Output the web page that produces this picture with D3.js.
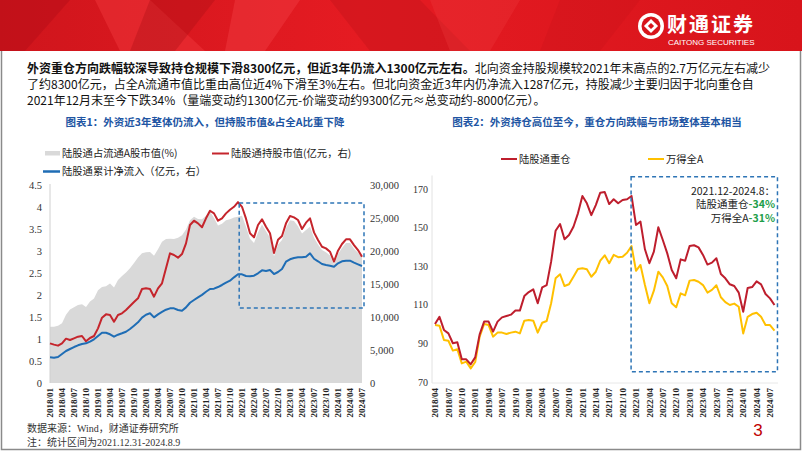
<!DOCTYPE html>
<html><head><meta charset="utf-8">
<script src="https://cdn.jsdelivr.net/npm/d3@7"></script>
<style>body{margin:0;background:#fff}svg{display:block}</style>
</head><body><svg id="c" width="802" height="451"></svg>
<script>
// ---------- DATA ----------
const leftStart = [2018, 1];   // first month of chart 1 series
const rightStart = [2018, 4];  // first month of chart 2 series
const leftTickLabels = ["2018/01","2018/04","2018/07","2018/10","2019/01","2019/04","2019/07","2019/10","2020/01","2020/04","2020/07","2020/10","2021/01","2021/04","2021/07","2021/10","2022/01","2022/04","2022/07","2022/10","2023/01","2023/04","2023/07","2023/10","2024/01","2024/04","2024/07"];
const rightTickLabels = ["2018/04","2018/07","2018/10","2019/01","2019/04","2019/07","2019/10","2020/01","2020/04","2020/07","2020/10","2021/01","2021/04","2021/07","2021/10","2022/01","2022/04","2022/07","2022/10","2023/01","2023/04","2023/07","2023/10","2024/01","2024/04","2024/07"];
const leftAxisTicks = [0,0.5,1,1.5,2,2.5,3,3.5,4,4.5];
const rightAxisTicks = [0,5000,10000,15000,20000,25000,30000];
const chart2Ticks = [70,90,110,130,150,170];

// 陆股通占流通A股市值(%)
const sharePct = [1.28,1.28,1.30,1.36,1.55,1.67,1.72,1.77,1.79,1.73,1.85,1.92,2.11,2.18,2.20,2.26,2.17,2.34,2.43,2.51,2.61,2.73,2.85,2.95,2.97,2.98,2.89,3.04,3.21,3.27,3.28,3.27,3.30,3.36,3.49,3.70,3.78,3.73,3.72,3.80,3.90,3.75,3.58,3.62,3.70,3.72,3.76,3.78,3.80,3.55,3.28,3.18,3.42,3.60,3.45,3.30,2.88,3.15,3.25,3.52,3.70,3.68,3.56,3.40,3.48,3.55,3.30,3.15,3.02,2.97,2.90,2.70,2.93,3.07,3.18,3.18,3.05,2.96,2.85];
// 陆股通持股市值(亿元)
const holdValue = [6010,5810,5660,6010,6720,6510,6770,7020,7120,6310,6820,7120,8280,9900,10400,10300,9290,10300,10560,11060,11670,12270,12830,14240,14340,14240,13080,14340,15100,17380,19650,19390,18990,19540,21160,23940,24590,24190,23600,24950,26100,25700,24590,24950,25700,26250,26700,27400,26700,24900,22680,22070,23940,24800,23680,22680,19700,21700,22270,24190,25300,25100,24700,23330,24290,24950,22820,21660,20650,20400,19890,18380,20050,21060,21770,21770,20900,20150,19130];
// 陆股通累计净流入(亿元)
const netInflow = [3890,3840,3940,4390,4850,5150,5450,5710,5910,6010,6260,6620,7120,7620,7620,7380,7020,7320,7530,7770,8180,8680,9190,9900,10350,10560,9950,10400,10760,11100,11310,11310,11060,10950,11460,12160,12570,12980,13350,13830,14240,14290,14540,14850,15200,15500,16010,16470,16470,16210,16160,16260,16620,17070,16970,17120,16510,16820,17270,18380,18740,18940,19040,19040,19130,19650,18830,18440,18030,17880,17770,17620,18130,18440,18530,18530,18230,17980,17730];
// 陆股通重仓 index
const heavyIdx = [100.2,103.9,97.1,95.3,90.2,90.7,81.9,81.9,79.3,82.9,94.8,101.4,101.4,96.2,101.4,103.6,104.3,105.0,107.1,107.1,114.6,116.7,118.1,110.9,119.1,120.3,132.4,148.4,151.9,144.0,146.2,150.5,157.4,166.4,162.6,156.5,161.7,168.1,168.4,162.2,164.7,162.6,164.3,164.7,166.4,151.4,153.1,138.8,131.6,137.6,150.2,143.6,136.7,128.1,123.8,133.6,132.9,140.5,140.9,139.8,135.9,130.9,131.9,134.2,126.0,123.8,120.7,119.8,116.4,106.5,118.8,119.3,122.2,120.7,115.7,113.4,110.0];
// 万得全A index
const windA = [99.6,99.3,91.9,91.5,86.4,87.1,79.8,80.7,77.2,80.5,93.6,100.2,99.6,93.6,95.7,95.7,95.0,95.7,96.2,95.3,101.9,102.2,101.9,95.7,100.8,101.7,110.9,123.8,125.9,119.8,120.7,124.6,128.6,129.0,128.5,124.6,127.2,132.9,135.7,131.6,135.9,134.7,135.0,137.0,140.5,127.7,130.7,120.3,110.9,117.4,127.2,124.3,119.8,110.9,108.8,116.0,115.0,122.6,122.9,122.0,120.3,116.4,117.8,120.2,114.0,111.5,110.0,110.7,109.1,95.3,103.9,105.3,106.0,103.9,99.6,99.6,96.7];

// ---------- DRAW ----------
const svg = d3.select("#c");
const CJK = "'Noto Sans CJK SC','Noto Sans',sans-serif";
const SERIF = "'Liberation Serif','Noto Sans CJK SC',serif";

// banner
const defs = svg.append("defs");
const gr = defs.append("linearGradient").attr("id","bn").attr("x1",0).attr("x2",1).attr("y1",0).attr("y2",0);
gr.append("stop").attr("offset",0).attr("stop-color","#cf151c");
gr.append("stop").attr("offset",0.45).attr("stop-color","#e51b22");
gr.append("stop").attr("offset",1).attr("stop-color","#d8141b");
svg.append("rect").attr("width",802).attr("height",51).attr("fill","url(#bn)");
const shards = [
  {p:[[0,0],[70,0],[25,51],[0,51]], c:"#b80f17", o:0.55},
  {p:[[95,0],[150,0],[205,51],[120,51]], c:"#f23a3f", o:0.45},
  {p:[[150,0],[215,0],[175,51],[130,51]], c:"#a90d14", o:0.35},
  {p:[[235,0],[300,0],[265,51],[225,51]], c:"#f5484c", o:0.35},
  {p:[[330,0],[420,0],[470,51],[370,51]], c:"#b60f16", o:0.30},
  {p:[[430,0],[520,0],[490,51],[450,51]], c:"#f03a3f", o:0.30},
  {p:[[560,0],[640,0],[600,51],[540,51]], c:"#c21118", o:0.25}
];
svg.append("g").selectAll("polygon").data(shards).join("polygon")
  .attr("points", d => d.p.map(q => q.join(",")).join(" "))
  .attr("fill", d => d.c).attr("opacity", d => d.o);
// logo
const lg = svg.append("g").attr("transform","translate(651,26)");
lg.append("circle").attr("r",13).attr("fill","#fff");
lg.append("circle").attr("r",9.5).attr("fill","#d7141b");
lg.append("rect").attr("x",-5).attr("y",-5).attr("width",10).attr("height",10).attr("transform","rotate(45)").attr("fill","#fff");
lg.append("rect").attr("x",-2.2).attr("y",-2.2).attr("width",4.4).attr("height",4.4).attr("transform","rotate(45)").attr("fill","#d7141b");
svg.append("text").attr("x",667).attr("y",32).attr("font-family",CJK).attr("font-weight",700)
  .attr("font-size",20).attr("fill","#fff").attr("letter-spacing",2).text("财通证券");
svg.append("text").attr("x",668).attr("y",45).attr("font-family","'Liberation Sans',Arial,sans-serif")
  .attr("font-size",8).attr("fill","#fff").text("CAITONG SECURITIES");

// frame
svg.append("path").attr("d","M1.5,51 V449.5 H800.5 V51").attr("fill","none").attr("stroke","#8a8a8a").attr("stroke-width",1.5);

// body text
const body = svg.append("g").attr("font-family",CJK).attr("font-size",12).attr("fill","#111");
const l1 = body.append("text").attr("x",27).attr("y",73);
l1.append("tspan").attr("font-weight",700).text("外资重仓方向跌幅较深导致持仓规模下滑8300亿元，但近3年仍流入1300亿元左右。");
l1.append("tspan").text("北向资金持股规模较2021年末高点的2.7万亿元左右减少");
body.append("text").attr("x",27).attr("y",89).text("了约8300亿元，占全A流通市值比重由高位近4%下滑至3%左右。但北向资金近3年内仍净流入1287亿元，持股减少主要归因于北向重仓自");
body.append("text").attr("x",27).attr("y",105).text("2021年12月末至今下跌34%（量端变动约1300亿元-价端变动约9300亿元≈总变动约-8000亿元）。");

// titles
svg.append("text").attr("x",205).attr("y",126).attr("text-anchor","middle").attr("font-family",CJK)
  .attr("font-weight",700).attr("font-size",10.5).attr("fill","#2155a3").text("图表1：外资近3年整体仍流入，但持股市值&占全A比重下降");
svg.append("text").attr("x",597).attr("y",126).attr("text-anchor","middle").attr("font-family",CJK)
  .attr("font-weight",700).attr("font-size",10.5).attr("fill","#2155a3").text("图表2：外资持仓高位至今，重仓方向跌幅与市场整体基本相当");

const RED = "#c5252c", BLUE = "#1f6db5", GREY = "#d9d9d9", DRED = "#be1e2d", YEL = "#ffc000", BOXC = "#2e75b6";

// ---- chart 1 ----
const n1 = sharePct.length;
const x1 = d3.scaleLinear().domain([0, n1 - 1]).range([50, 362]);
const yL = d3.scaleLinear().domain([0, 4.5]).range([383, 185]);
const yR = d3.scaleLinear().domain([0, 30000]).range([383, 185]);
const idx1 = lab => { const [y, m] = lab.split("/").map(Number); return (y - leftStart[0]) * 12 + (m - leftStart[1]); };

const c1 = svg.append("g");
c1.append("path").datum(sharePct)
  .attr("d", d3.area().x((d,i)=>x1(i)).y0(yL(0)).y1(d=>yL(d)))
  .attr("fill", GREY);
c1.append("line").attr("x1",50).attr("x2",50).attr("y1",184).attr("y2",383).attr("stroke","#d0d0d0").attr("stroke-width",1);
c1.append("path").datum(holdValue)
  .attr("d", d3.line().x((d,i)=>x1(i)).y(d=>yR(d)))
  .attr("fill","none").attr("stroke",RED).attr("stroke-width",2).attr("stroke-linejoin","round");
c1.append("path").datum(netInflow)
  .attr("d", d3.line().x((d,i)=>x1(i)).y(d=>yR(d)))
  .attr("fill","none").attr("stroke",BLUE).attr("stroke-width",2).attr("stroke-linejoin","round");
// highlight box (2021/12 onward)
const boxStart1 = idx1("2021/12") + 0.3;
c1.append("rect").attr("x", x1(boxStart1)).attr("y", yR(27270))
  .attr("width", x1(n1 - 1) + 2 - x1(boxStart1)).attr("height", yR(11360) - yR(27270))
  .attr("fill","none").attr("stroke",BOXC).attr("stroke-width",1.5).attr("stroke-dasharray","4,3");
// axes labels
c1.append("g").selectAll("text").data(leftAxisTicks).join("text")
  .attr("x",42).attr("y",d=>yL(d)).attr("dy","0.35em").attr("text-anchor","end")
  .attr("font-family",SERIF).attr("font-size",10.5).attr("fill","#333").text(d=>d);
c1.append("g").selectAll("text").data(rightAxisTicks).join("text")
  .attr("x",370).attr("y",d=>yR(d)).attr("dy","0.35em").attr("text-anchor","start")
  .attr("font-family",SERIF).attr("font-size",10.5).attr("fill","#333").text(d=>d3.format(",")(d));
c1.append("g").selectAll("text").data(leftTickLabels).join("text")
  .attr("transform",d=>`translate(${x1(idx1(d))},388) rotate(-90)`)
  .attr("text-anchor","end").attr("dy","0.35em")
  .attr("font-family",SERIF).attr("font-weight",700).attr("font-size",9).attr("fill","#222").text(d=>d);
// legend 1
const lg1 = svg.append("g").attr("font-family",CJK).attr("font-size",10.3).attr("fill","#222");
lg1.append("rect").attr("x",45).attr("y",151).attr("width",15).attr("height",4.5).attr("fill",GREY);
lg1.append("text").attr("x",62).attr("y",153.5).attr("dy","0.35em").text("陆股通占流通A股市值(%)");
lg1.append("line").attr("x1",212).attr("x2",229).attr("y1",153.5).attr("y2",153.5).attr("stroke",RED).attr("stroke-width",2);
lg1.append("text").attr("x",231).attr("y",153.5).attr("dy","0.35em").text("陆股通持股市值(亿元，右)");
lg1.append("line").attr("x1",43).attr("x2",60).attr("y1",171.5).attr("y2",171.5).attr("stroke",BLUE).attr("stroke-width",2.5);
lg1.append("text").attr("x",62).attr("y",171.5).attr("dy","0.35em").text("陆股通累计净流入（亿元，右）");

// ---- chart 2 ----
const n2 = heavyIdx.length;
const x2 = d3.scaleLinear().domain([0, 75]).range([435, 770]);
const y2 = d3.scaleLinear().domain([70, 170]).range([382.3, 189]);
const idx2 = lab => { const [y, m] = lab.split("/").map(Number); return (y - rightStart[0]) * 12 + (m - rightStart[1]); };
const c2 = svg.append("g");
c2.append("line").attr("x1",432).attr("x2",432).attr("y1",y2(177)).attr("y2",383).attr("stroke","#e2e2e2");
c2.append("line").attr("x1",432).attr("x2",778).attr("y1",383).attr("y2",383).attr("stroke","#e8e8e8");
c2.append("path").datum(windA)
  .attr("d", d3.line().x((d,i)=>x2(i)).y(d=>y2(d)))
  .attr("fill","none").attr("stroke",YEL).attr("stroke-width",2).attr("stroke-linejoin","round");
c2.append("path").datum(heavyIdx)
  .attr("d", d3.line().x((d,i)=>x2(i)).y(d=>y2(d)))
  .attr("fill","none").attr("stroke",DRED).attr("stroke-width",2).attr("stroke-linejoin","round");
const boxStart2 = idx2("2021/12") - 0.1;
c2.append("rect").attr("x", x2(boxStart2)).attr("y", y2(176.4))
  .attr("width", x2(n2 - 1) + 3 - x2(boxStart2)).attr("height", y2(75.5) - y2(176.4))
  .attr("fill","none").attr("stroke",BOXC).attr("stroke-width",1.5).attr("stroke-dasharray","4,3");
c2.append("g").selectAll("text").data(chart2Ticks).join("text")
  .attr("x",428).attr("y",d=>y2(d)).attr("dy","0.35em").attr("text-anchor","end")
  .attr("font-family",SERIF).attr("font-size",10).attr("fill","#333").text(d=>d);
c2.append("g").selectAll("text").data(rightTickLabels).join("text")
  .attr("transform",d=>`translate(${x2(idx2(d))},388) rotate(-90)`)
  .attr("text-anchor","end").attr("dy","0.35em")
  .attr("font-family",SERIF).attr("font-weight",700).attr("font-size",9).attr("fill","#222").text(d=>d);
// annotation
const ann = c2.append("g").attr("font-family",CJK).attr("font-size",10.5).attr("fill","#222").attr("text-anchor","end");
ann.append("text").attr("x",775).attr("y",191).attr("dy","0.35em").text("2021.12-2024.8：");
const a2 = ann.append("text").attr("x",775).attr("y",204.5).attr("dy","0.35em");
a2.append("tspan").text("陆股通重仓");
a2.append("tspan").attr("fill","#1e9e4a").attr("font-weight",700).text("-34%");
const a3 = ann.append("text").attr("x",775).attr("y",218).attr("dy","0.35em");
a3.append("tspan").text("万得全A");
a3.append("tspan").attr("fill","#1e9e4a").attr("font-weight",700).text("-31%");
// legend 2
const lg2 = svg.append("g").attr("font-family",CJK).attr("font-size",10.3).attr("fill","#222");
lg2.append("line").attr("x1",501).attr("x2",517).attr("y1",159).attr("y2",159).attr("stroke",DRED).attr("stroke-width",2);
lg2.append("text").attr("x",519).attr("y",159).attr("dy","0.35em").text("陆股通重仓");
lg2.append("line").attr("x1",648).attr("x2",664).attr("y1",159).attr("y2",159).attr("stroke",YEL).attr("stroke-width",2);
lg2.append("text").attr("x",666).attr("y",159).attr("dy","0.35em").text("万得全A");

// footer
const ft = svg.append("g").attr("font-family",SERIF).attr("font-size",10).attr("fill","#333");
ft.append("text").attr("x",27).attr("y",428).attr("dy","0.35em").text("数据来源：Wind，财通证券研究所");
ft.append("text").attr("x",27).attr("y",442).attr("dy","0.35em").text("注：统计区间为2021.12.31-2024.8.9");
svg.append("text").attr("x",758).attr("y",430).attr("dy","0.35em").attr("text-anchor","middle")
  .attr("font-family","'Liberation Sans',Arial,sans-serif").attr("font-size",17).attr("fill","#c00000").text("3");
</script></body></html>
